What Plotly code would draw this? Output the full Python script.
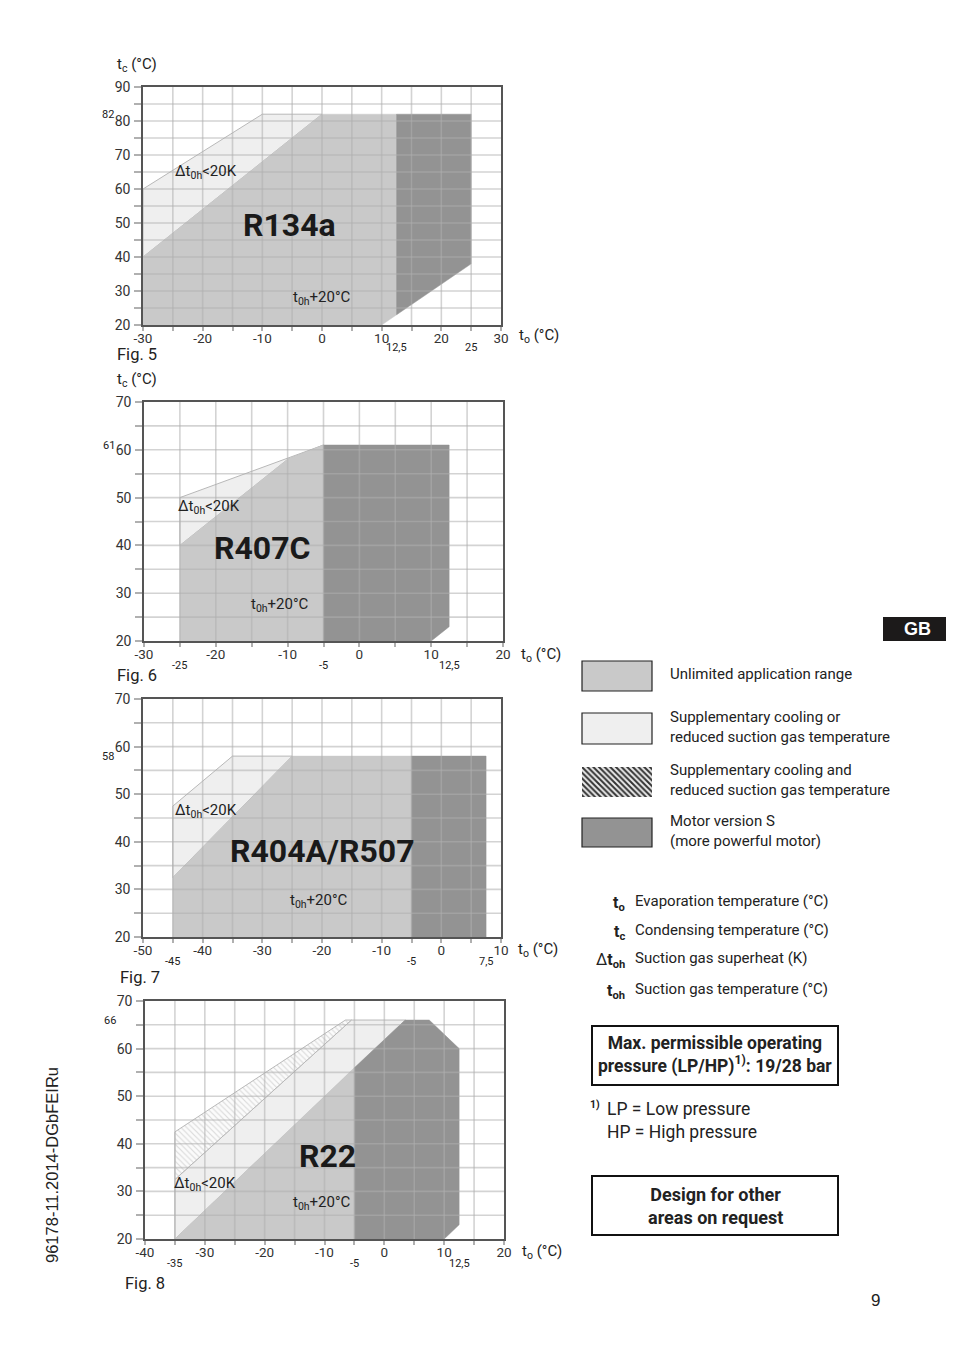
import plotly.graph_objects as go

OFF = 8                      # page body margin of the viewer
W, H = 954 - OFF, 1354 - OFF
def fx(p): return (p - OFF) / W
def fy(p): return 1 - (p - OFF) / H

# ---------------- data ----------------
# Fig. 5  R134a
r134a_to_range = [-30, 30]
r134a_tc_range = [20, 90]
r134a_to_ticks = [-30, -20, -10, 0, 10, 20, 30]
r134a_tc_ticks = [20, 30, 40, 50, 60, 70, 80, 90]
r134a_light_to = [-30, -30, -10, 0]
r134a_light_tc = [40, 60, 82, 82]
r134a_unl_to = [-30, -30, 0, 12.5, 12.5, 10]
r134a_unl_tc = [20, 40, 82, 82, 23, 20]
r134a_mot_to = [12.5, 12.5, 25, 25]
r134a_mot_tc = [23, 82, 82, 38]
r134a_extra_to = [12.5, 25]
r134a_extra_to_lbl = ["12,5", "25"]
r134a_extra_tc = [82]

# Fig. 6  R407C
r407c_to_range = [-30, 20]
r407c_tc_range = [20, 70]
r407c_to_ticks = [-30, -20, -10, 0, 10, 20]
r407c_tc_ticks = [20, 30, 40, 50, 60, 70]
r407c_light_to = [-25, -25, -5, -10]
r407c_light_tc = [40, 50, 61, 58]
r407c_unl_to = [-25, -25, -10, -5, -5]
r407c_unl_tc = [20, 40, 58, 61, 20]
r407c_mot_to = [-5, -5, 12.5, 12.5, 10]
r407c_mot_tc = [20, 61, 61, 23, 20]
r407c_extra_to = [-25, -5, 12.5]
r407c_extra_to_lbl = ["-25", "-5", "12,5"]
r407c_extra_tc = [61]

# Fig. 7  R404A/R507
r404a_to_range = [-50, 10]
r404a_tc_range = [20, 70]
r404a_to_ticks = [-50, -40, -30, -20, -10, 0, 10]
r404a_tc_ticks = [20, 30, 40, 50, 60, 70]
r404a_light_to = [-45, -45, -35, -25]
r404a_light_tc = [32.5, 47.5, 58, 58]
r404a_unl_to = [-45, -45, -25, -5, -5]
r404a_unl_tc = [20, 32.5, 58, 58, 20]
r404a_mot_to = [-5, -5, 7.5, 7.5]
r404a_mot_tc = [20, 58, 58, 20]
r404a_extra_to = [-45, -5, 7.5]
r404a_extra_to_lbl = ["-45", "-5", "7,5"]
r404a_extra_tc = [58]

# Fig. 8  R22
r22_to_range = [-40, 20]
r22_tc_range = [20, 70]
r22_to_ticks = [-40, -30, -20, -10, 0, 10, 20]
r22_tc_ticks = [20, 30, 40, 50, 60, 70]
r22_hatch_to = [-35, -35, -6.5, -5.5]
r22_hatch_tc = [32.5, 42.5, 66, 66]
r22_light_to = [-35, -35, -5.5, 3.5]
r22_light_tc = [20, 32.5, 66, 66]
r22_unl_to = [-35, -5, -5]
r22_unl_tc = [20, 56, 20]
r22_mot_to = [-5, -5, 3.5, 7.5, 12.5, 12.5, 10]
r22_mot_tc = [20, 56, 66, 66, 60, 23, 20]
r22_extra_to = [-35, -5, 12.5]
r22_extra_to_lbl = ["-35", "-5", "12,5"]
r22_extra_tc = [66]

# ---------------- style ----------------
C_UNL = "#c9c9c9"
C_LIGHT = "#efefef"
C_MOT = "#939393"
GRID = "rgba(175,175,175,0.55)"
TXT = "#222222"
NARROW = "Roboto, Liberation Sans, sans-serif"
NORMAL = "Liberation Sans, Arial, sans-serif"

charts = [
    dict(ax="", name="R134a", dom=(143, 501, 87, 325),
         xr=r134a_to_range, yr=r134a_tc_range, xt=r134a_to_ticks, yt=r134a_tc_ticks,
         polys=[(r134a_light_to, r134a_light_tc, "light"),
                (r134a_unl_to, r134a_unl_tc, "unl"),
                (r134a_mot_to, r134a_mot_tc, "mot")],
         ex_to=r134a_extra_to, ex_lbl=r134a_extra_to_lbl, ex_tc=r134a_extra_tc,
         lbl_dt=(-19.5, 65), lbl_big=(-5.5, 49.5), lbl_toh=(0, 28),
         ttl_c=True, fig="Fig. 5", fig_xy=(137, 355), ex_y=347, xttl=(517, 336)),
    dict(ax="2", name="R407C", dom=(144, 503, 402, 641),
         xr=r407c_to_range, yr=r407c_tc_range, xt=r407c_to_ticks, yt=r407c_tc_ticks,
         polys=[(r407c_light_to, r407c_light_tc, "light"),
                (r407c_unl_to, r407c_unl_tc, "unl"),
                (r407c_mot_to, r407c_mot_tc, "mot")],
         ex_to=r407c_extra_to, ex_lbl=r407c_extra_to_lbl, ex_tc=r407c_extra_tc,
         lbl_dt=(-21, 48), lbl_big=(-13.5, 39.5), lbl_toh=(-11, 27.5),
         ttl_c=True, fig="Fig. 6", fig_xy=(137, 675), ex_y=665, xttl=(519, 655)),
    dict(ax="3", name="R404A/R507", dom=(143, 501, 699, 937),
         xr=r404a_to_range, yr=r404a_tc_range, xt=r404a_to_ticks, yt=r404a_tc_ticks,
         polys=[(r404a_light_to, r404a_light_tc, "light"),
                (r404a_unl_to, r404a_unl_tc, "unl"),
                (r404a_mot_to, r404a_mot_tc, "mot")],
         ex_to=r404a_extra_to, ex_lbl=r404a_extra_to_lbl, ex_tc=r404a_extra_tc,
         lbl_dt=(-39.5, 46.5), lbl_big=(-20, 38), lbl_toh=(-20.5, 27.5),
         ttl_c=False, fig="Fig. 7", fig_xy=(140, 977), ex_y=961, xttl=(516, 950)),
    dict(ax="4", name="R22", dom=(145, 504, 1001, 1239),
         xr=r22_to_range, yr=r22_tc_range, xt=r22_to_ticks, yt=r22_tc_ticks,
         polys=[(r22_light_to, r22_light_tc, "light"),
                (r22_hatch_to, r22_hatch_tc, "hatch"),
                (r22_unl_to, r22_unl_tc, "unl"),
                (r22_mot_to, r22_mot_tc, "mot")],
         ex_to=r22_extra_to, ex_lbl=r22_extra_to_lbl, ex_tc=r22_extra_tc,
         lbl_dt=(-30, 31.5), lbl_big=(-9.5, 37.5), lbl_toh=(-10.5, 27.5),
         ttl_c=False, fig="Fig. 8", fig_xy=(145, 1283), ex_y=1263, xttl=(520, 1252)),
]

fig = go.Figure()
layout = dict(width=W, height=H, margin=dict(l=0, r=0, t=0, b=0, autoexpand=False),
              paper_bgcolor="white", plot_bgcolor="white", showlegend=False,
              template="none",
              font=dict(family=NARROW, color=TXT, size=14))
shapes = []
annots = []

def ann(text, x, y, size=14, xref="paper", yref="paper", xa="center", ya="middle",
        family=NARROW, color=TXT, angle=0, align="left"):
    annots.append(dict(text=text, x=x, y=y, xref=xref, yref=yref, xanchor=xa, yanchor=ya,
                       showarrow=False, font=dict(size=size, family=family, color=color),
                       textangle=angle, align=align))

for c in charts:
    a = c["ax"]
    xa_name, ya_name = "xaxis" + a, "yaxis" + a
    xref, yref = "x" + a, "y" + a
    x0, x1, y0, y1 = c["dom"]
    layout[xa_name] = dict(domain=[fx(x0), fx(x1)], range=c["xr"], anchor=yref, automargin=False,
                           tickvals=c["xt"], ticktext=[str(v) for v in c["xt"]],
                           ticks="", showgrid=False, zeroline=False,
                           showline=True, mirror=True, linecolor="#555", linewidth=1.5,
                           tickfont=dict(size=13.5, color="#333"), ticklabelstandoff=0,
                           minor=dict(dtick=5, tick0=0, ticks="outside", ticklen=4,
                                      tickcolor="#b0b0b0", tickwidth=1.5, showgrid=False))
    layout[ya_name] = dict(domain=[fy(y1), fy(y0)], range=c["yr"], anchor=xref, automargin=False,
                           tickvals=c["yt"], ticktext=[str(v) for v in c["yt"]],
                           ticks="", showgrid=False, zeroline=False,
                           showline=True, mirror=True, linecolor="#555", linewidth=1.5,
                           tickfont=dict(size=14, color="#333"), ticklabelstandoff=8,
                           minor=dict(dtick=5, tick0=0, ticks="outside", ticklen=7,
                                      tickcolor="#b0b0b0", tickwidth=1.5, showgrid=False))
    for xs, ys, kind in c["polys"]:
        kw = dict(x=xs + [xs[0]], y=ys + [ys[0]], fill="toself", mode="lines",
                  xaxis=xref, yaxis=yref, hoverinfo="skip", showlegend=False)
        if kind == "light":
            kw.update(fillcolor=C_LIGHT, line=dict(color="#b8b8b8", width=1))
        elif kind == "hatch":
            kw.update(fillcolor="white", line=dict(color="#b8b8b8", width=1),
                      fillpattern=dict(shape="\\", fgcolor="#dadada", bgcolor="#fbfbfb",
                                       size=4, solidity=0.28))
        elif kind == "unl":
            kw.update(fillcolor=C_UNL, line=dict(color=C_UNL, width=0.5))
        else:
            kw.update(fillcolor=C_MOT, line=dict(color=C_MOT, width=0.5))
        fig.add_trace(go.Scatter(**kw))
    # grid above the fills
    for v in range(c["xr"][0] + 5, c["xr"][1], 5):
        shapes.append(dict(type="line", xref=xref, yref=yref + " domain", x0=v, x1=v, y0=0, y1=1,
                           line=dict(color=GRID, width=1.6), layer="above"))
    for v in range(c["yr"][0] + 5, c["yr"][1], 5):
        shapes.append(dict(type="line", xref=xref + " domain", yref=yref, x0=0, x1=1, y0=v, y1=v,
                           line=dict(color=GRID, width=1.6), layer="above"))
    # in-plot labels
    ann("Δt<sub>0h</sub>&lt;20K", c["lbl_dt"][0], c["lbl_dt"][1], size=15, xref=xref, yref=yref)
    ann("<b>%s</b>" % c["name"], c["lbl_big"][0], c["lbl_big"][1], size=32,
        xref=xref, yref=yref, color="#1a1a1a")
    ann("t<sub>0h</sub>+20°C", c["lbl_toh"][0], c["lbl_toh"][1], size=15, xref=xref, yref=yref)
    # extra tick labels
    for v, l in zip(c["ex_to"], c["ex_lbl"]):
        ann(l, v, fy(c["ex_y"]), size=11, xref=xref, yref="paper")
    for v in c["ex_tc"]:
        ann(str(v), fx(x0 - 35), v, size=11, xref="paper", yref=yref)
    # axis titles
    ann("t<sub>o</sub> (°C)", fx(c["xttl"][0]), fy(c["xttl"][1]), size=15, xa="left")
    if c["ttl_c"]:
        ann("t<sub>c</sub> (°C)", fx(115), fy(y0 - 22), size=15, xa="left")
    ann(c["fig"], fx(c["fig_xy"][0]), fy(c["fig_xy"][1]), size=16.5)

# ---------------- right column ----------------
shapes.append(dict(type="rect", xref="paper", yref="paper", x0=fx(883), x1=fx(954),
                   y0=fy(641), y1=fy(617), fillcolor="#1c1a1a", line=dict(width=0)))
ann("<b>GB</b>", fx(917), fy(629), size=18, family=NORMAL, color="white")

legend_labels = ["Unlimited application range",
                 "Supplementary cooling or<br>reduced suction gas temperature",
                 "Supplementary cooling and<br>reduced suction gas temperature",
                 "Motor version S<br>(more powerful motor)"]
legend_boxes = [(661, 691), (713, 744), (767, 797), (818, 847)]
legend_fill = [C_UNL, C_LIGHT, None, C_MOT]
legend_text_y = [674, 727, 780, 831]
for (b0, b1), col, lab, ty in zip(legend_boxes, legend_fill, legend_labels, legend_text_y):
    if col is not None:
        shapes.append(dict(type="rect", xref="paper", yref="paper", x0=fx(582), x1=fx(652),
                           y0=fy(b1), y1=fy(b0), fillcolor=col, line=dict(color="#222", width=1.2)))
    ann(lab, fx(668), fy(ty), size=15, xa="left")

layout["xaxis5"] = dict(domain=[fx(582), fx(652)], range=[0, 1], visible=False, anchor="y5",
                        automargin=False)
layout["yaxis5"] = dict(domain=[fy(797), fy(767)], range=[0, 1], visible=False, anchor="x5",
                        automargin=False)
swatch_x = [0, 1, 1, 0, 0]
swatch_y = [0, 0, 1, 1, 0]
fig.add_trace(go.Scatter(x=swatch_x, y=swatch_y, fill="toself", mode="lines",
                         line=dict(width=0, color="#888"), fillcolor="#d8d8d8",
                         fillpattern=dict(shape="\\", fgcolor="#333", bgcolor="#ececec",
                                          size=4, solidity=0.5),
                         xaxis="x5", yaxis="y5", hoverinfo="skip", showlegend=False))

sym_labels = ["<b>t<sub>o</sub></b>", "<b>t<sub>c</sub></b>", "Δ<b>t<sub>oh</sub></b>", "<b>t<sub>oh</sub></b>"]
sym_desc = ["Evaporation temperature (°C)", "Condensing temperature (°C)",
            "Suction gas superheat (K)", "Suction gas temperature (°C)"]
sym_y = [901, 930, 958, 989]
for s, d, yy in zip(sym_labels, sym_desc, sym_y):
    ann(s, fx(627), fy(yy + 2), size=16, xa="right")
    ann(d, fx(633), fy(yy), size=15, xa="left")

shapes.append(dict(type="rect", xref="paper", yref="paper", x0=fx(592), x1=fx(838),
                   y0=fy(1085), y1=fy(1026), line=dict(color="#111", width=2)))
ann("<b>Max. permissible operating<br>pressure (LP/HP)<sup>1)</sup>: 19/28 bar</b>",
    fx(715), fy(1055), size=17.5, align="center")
ann("<b><sup>1)</sup></b>", fx(595), fy(1104), size=15)
ann("LP = Low pressure<br>HP = High pressure", fx(605), fy(1120), size=17.5, xa="left")

shapes.append(dict(type="rect", xref="paper", yref="paper", x0=fx(592), x1=fx(838),
                   y0=fy(1235), y1=fy(1176), line=dict(color="#111", width=2)))
ann("<b>Design for other<br>areas on request</b>", fx(715), fy(1206), size=18, align="center")

ann("9", fx(875), fy(1300), size=17, family=NORMAL)
ann("96178-11.2014-DGbFEIRu", fx(52), fy(1165), size=16.5, family=NORMAL, angle=-90)

layout["shapes"] = shapes
layout["annotations"] = annots
fig.update_layout(**layout)
fig.write_html("out.html")
